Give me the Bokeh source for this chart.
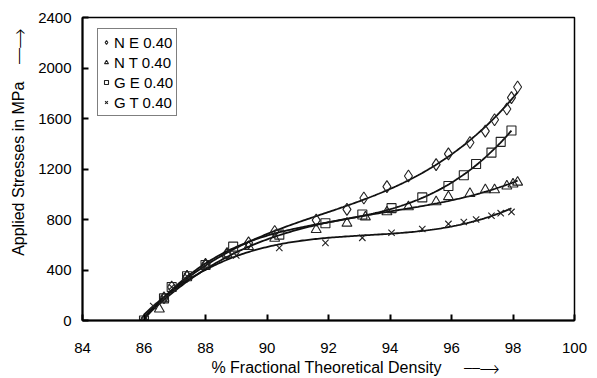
import numpy as np
from bokeh.plotting import figure
from bokeh.models import (Range1d, FixedTicker, Legend, LegendItem)
from bokeh.embed import file_html
from bokeh.resources import INLINE

# ---- data ----
ne_x = [86.0, 86.65, 86.9, 87.4, 88.0, 88.7, 89.4, 90.25, 91.6, 92.6, 93.15, 93.9,
        94.6, 95.5, 95.9, 96.6, 97.1, 97.4, 97.8, 97.95, 98.15]
ne_y = [0, 180, 265, 350, 445, 530, 615, 705, 795, 880, 970, 1060,
        1145, 1235, 1320, 1410, 1500, 1590, 1675, 1765, 1850]

nt_x = [86.0, 86.5, 86.65, 87.4, 88.0, 88.7, 89.4, 90.25, 91.6, 92.6, 93.2, 93.9,
        94.6, 95.5, 95.9, 96.6, 97.1, 97.4, 97.8, 98.0, 98.15]
nt_y = [0, 90, 175, 350, 440, 525, 585, 650, 720, 770, 820, 860,
        900, 940, 980, 1005, 1035, 1035, 1065, 1080, 1095]

ge_x = [86.0, 86.65, 86.9, 87.4, 88.0, 88.9, 90.4, 91.9, 93.1, 94.05, 95.05, 95.9,
        96.4, 96.8, 97.3, 97.6, 97.95]
ge_y = [0, 175, 265, 350, 440, 585, 680, 770, 840, 890, 975, 1065,
        1150, 1240, 1330, 1415, 1505]

gt_x = [86.0, 86.3, 86.65, 86.9, 87.4, 88.0, 89.0, 90.4, 91.9, 93.1, 94.05, 95.05,
        95.9, 96.4, 96.8, 97.3, 97.6, 97.95]
gt_y = [0, 115, 175, 265, 350, 430, 515, 575, 615, 655, 695, 725,
        765, 780, 800, 830, 850, 860]

series_names = ["N E 0.40", "N T 0.40", "G E 0.40", "G T 0.40"]
x_ticks = [84, 86, 88, 90, 92, 94, 96, 98, 100]
y_ticks = [0, 400, 800, 1200, 1600, 2000, 2400]
x_title = "% Fractional Theoretical Density"
y_title = "Applied Stresses in MPa"

FONT = "Liberation Sans"
FS = "15px"
NB = "\u00a0"
ARROW = "\u23af\u23af\u27f6"

p = figure(width=597, height=378, output_backend="svg", toolbar_location=None,
           x_range=Range1d(84, 100), y_range=Range1d(0, 2400),
           min_border_left=82, min_border_right=23, min_border_top=17,
           min_border_bottom=57)
p.grid.visible = False
p.outline_line_color = "black"
p.outline_line_width = 1.5
p.background_fill_color = "white"
p.border_fill_color = "white"

for ax in (p.xaxis[0], p.yaxis[0]):
    ax.axis_line_width = 2
    ax.axis_line_color = "black"
    ax.major_tick_in = 6
    ax.major_tick_out = 0
    ax.major_tick_line_width = 2
    ax.minor_tick_line_color = None
    ax.major_label_text_font = FONT
    ax.major_label_text_font_size = FS
    ax.major_label_text_color = "black"
    ax.axis_label_text_font = FONT
    ax.axis_label_text_font_size = "16px"
    ax.axis_label_text_font_style = "normal"
    ax.axis_label_text_color = "black"
p.xaxis.ticker = FixedTicker(ticks=x_ticks)
p.yaxis.ticker = FixedTicker(ticks=y_ticks)
p.xaxis.major_label_standoff = 22
p.yaxis.major_label_standoff = 11
p.xaxis.axis_label = NB * 12 + x_title + NB * 5 + ARROW
p.yaxis.axis_label = NB * 12 + y_title + NB * 4 + ARROW
p.xaxis.axis_label_standoff = 3
p.yaxis.axis_label_standoff = 8

# trendlines (cubic least-squares fits of each series)
def trend(xs, ys):
    c = np.polyfit(xs, ys, 3)
    xx = np.linspace(min(xs), max(xs), 200)
    return xx, np.polyval(c, xx)

mk = dict(line_color="#222222", fill_color=None, line_width=1.1)
renderers = []
for xs, ys, marker, size in [(ne_x, ne_y, "diamond", 12),
                             (nt_x, nt_y, "triangle", 10),
                             (ge_x, ge_y, "square", 9),
                             (gt_x, gt_y, "x", 9)]:
    tx, ty = trend(xs, ys)
    p.line(tx, ty, line_color="#111111", line_width=1.8)
    r = p.scatter(xs, ys, marker=marker, size=size, **mk)
    renderers.append(r)

legend = Legend(items=[LegendItem(label=n, renderers=[r]) for n, r in zip(series_names, renderers)],
                location=(15, 204))
legend.label_text_font = FONT
legend.label_text_font_size = FS
legend.label_text_color = "black"
legend.border_line_color = "black"
legend.border_line_width = 1
legend.padding = 3
legend.spacing = 0
legend.margin = 0
legend.glyph_width = 10
legend.glyph_height = 20
legend.label_height = 20
legend.label_standoff = 3
legend.background_fill_alpha = 1
p.add_layout(legend, "center")

out = file_html(p, INLINE)
open("out.html", "w").write(out)
